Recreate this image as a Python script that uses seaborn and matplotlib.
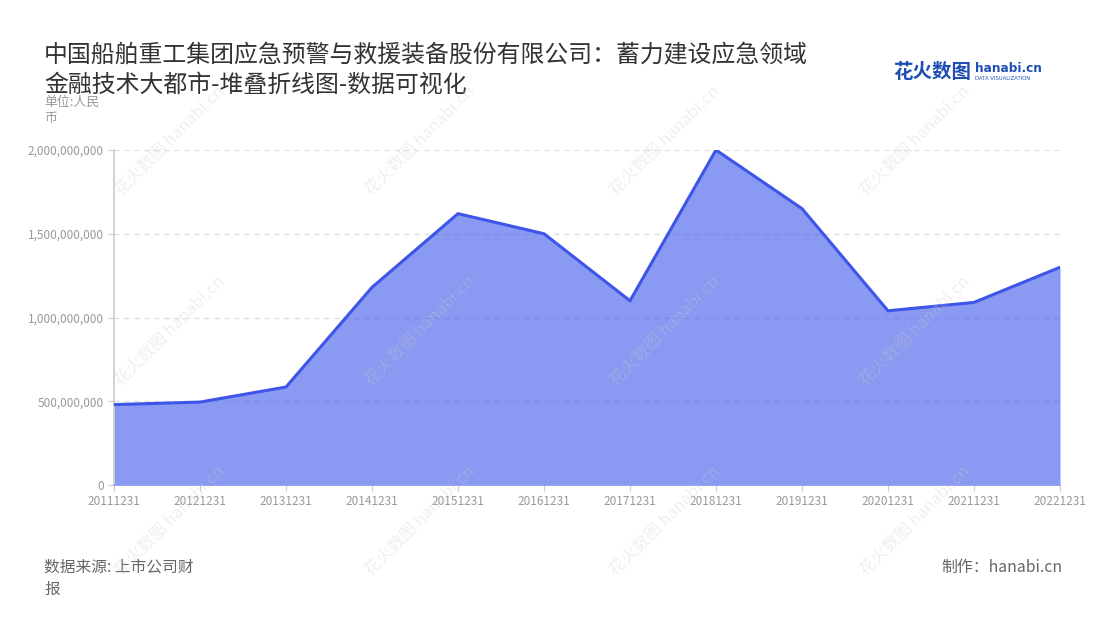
import matplotlib
matplotlib.use("Agg")
import matplotlib.pyplot as plt
import seaborn as sns
import pandas as pd
import numpy as np
from matplotlib.ticker import FuncFormatter

dates = ["20111231", "20121231", "20131231", "20141231", "20151231", "20161231",
         "20171231", "20181231", "20191231", "20201231", "20211231", "20221231"]
values = [480e6, 495e6, 585e6, 1180e6, 1620e6, 1500e6,
          1100e6, 2000e6, 1650e6, 1040e6, 1090e6, 1300e6]

title = "中国船舶重工集团应急预警与救援装备股份有限公司：蓄力建设应急领域\n金融技术大都市-堆叠折线图-数据可视化"
unit = "单位:人民\n币"
source = "数据来源: 上市公司财\n报"
credit = "制作：hanabi.cn"

sns.set_theme(style="white")
plt.rcParams['font.family'] = ['Noto Sans CJK SC', 'DejaVu Sans']

df = pd.DataFrame({"date": dates, "value": values})
df["x"] = np.arange(len(dates))

fig = plt.figure(figsize=(11, 6.2), dpi=100)
ax = fig.add_axes([114/1100, 1-485/620, (1060-114)/1100, (485-150)/620])

ax.fill_between(df["x"], 0, df["value"], color="#3d55e8", alpha=0.6, lw=0, zorder=2)
sns.lineplot(data=df, x="x", y="value", ax=ax, color="#3d55e8", lw=2.2, zorder=3)

ax.set_xlim(0, len(dates)-1)
ax.set_ylim(0, 2e9)
ax.set_yticks([0, 5e8, 1e9, 1.5e9, 2e9])
ax.yaxis.set_major_formatter(FuncFormatter(lambda v, p: f"{int(v):,}"))
ax.set_xticks(df["x"])
ax.set_xticklabels(dates)
ax.set_xlabel("")
ax.set_ylabel("")
ax.grid(axis="y", color="#dddddd", linestyle=(0, (4, 4)), lw=0.9)
ax.set_axisbelow(True)
for s in ["top", "right"]:
    ax.spines[s].set_visible(False)
ax.spines["left"].set_color("#cccccc")
ax.spines["bottom"].set_color("#8fa0ee")
ax.tick_params(axis="both", colors="#999999", labelsize=8.5, length=4, width=0.8,
               left=True, bottom=True)
ax.tick_params(axis="y", color="#cccccc")
ax.tick_params(axis="x", color="#cccccc")
ax.patch.set_alpha(0)

# watermarks (drawn on top, faint)
for wx in [170, 420, 665, 915]:
    for wy in [140, 330, 520]:
        fig.text(wx/1100, 1-wy/620, "花火数图 hanabi.cn", rotation=45, fontsize=12,
                 color="#cccccc", alpha=0.3, ha="center", va="center", zorder=10)

fig.text(44/1100, 1-70/620, title, fontsize=17.2, color="#333333", ha="left", va="center",
         linespacing=1.4)
fig.text(44/1100, 1-110/620, unit, fontsize=9.3, color="#999999", ha="left", va="center",
         linespacing=1.3)
fig.text(44/1100, 1-578/620, source, fontsize=11.3, color="#666666", ha="left", va="center",
         linespacing=1.45)
fig.text(1062/1100, 1-567/620, credit, fontsize=11.4, color="#666666", ha="right", va="center")

# logo
fig.text(893/1100, 1-72/620, "花火数图", fontsize=14, color="#1f4fb5", fontweight="bold",
         ha="left", va="center")
fig.text(975/1100, 1-68/620, "hanabi.cn", fontsize=8.7, color="#1f4fb5", fontweight="bold",
         ha="left", va="center", family=["DejaVu Sans"])
fig.text(975/1100, 1-79/620, "DATA VISUALIZATION", fontsize=3.8, color="#1f4fb5",
         ha="left", va="center", family=["DejaVu Sans"])

fig.savefig("out.png", dpi=100)
